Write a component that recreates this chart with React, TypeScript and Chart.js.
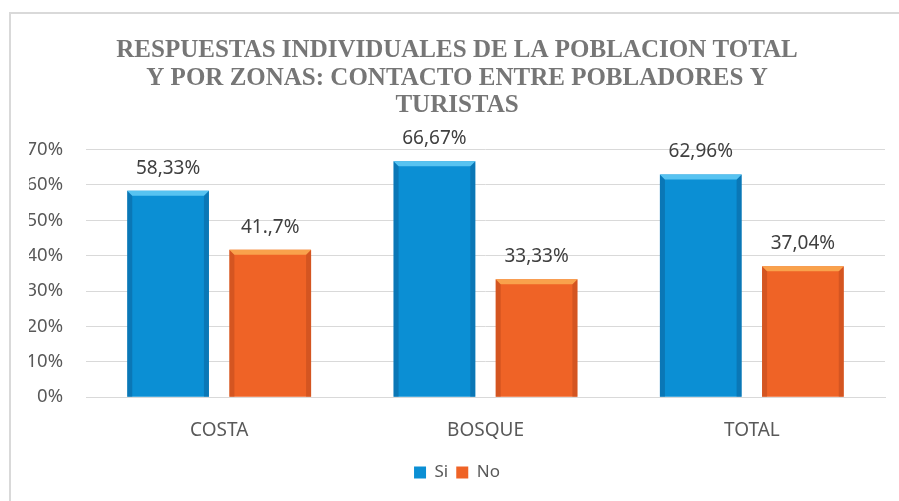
import React, { useEffect, useRef } from "react";
import { Chart, registerables } from "chart.js";

Chart.register(...registerables);

const categories = ["COSTA", "BOSQUE", "TOTAL"];
const siValues = [58.33, 66.67, 62.96];
const noValues = [41.7, 33.33, 37.04];
const siLabels = ["58,33%", "66,67%", "62,96%"];
const noLabels = ["41.,7%", "33,33%", "37,04%"];
const titleLines = [
  "RESPUESTAS INDIVIDUALES DE LA POBLACION TOTAL",
  "Y POR ZONAS: CONTACTO ENTRE POBLADORES Y",
  "TURISTAS",
];
const yTicks = [0, 10, 20, 30, 40, 50, 60, 70];

const SANS = "'Noto Sans', 'Open Sans', sans-serif";

const palette = [
  { main: "#0b8fd4", light: "#5cc6f2", dark: "#0a5f98" },
  { main: "#ef6326", light: "#f9a54e", dark: "#b9481c" },
];

const bevelPlugin = {
  id: "bevel",
  afterDatasetsDraw(chart: any) {
    const ctx = chart.ctx;
    chart.data.datasets.forEach((ds: any, di: number) => {
      const meta = chart.getDatasetMeta(di);
      const c = palette[di];
      meta.data.forEach((bar: any) => {
        const { x, y, base, width } = bar.getProps(["x", "y", "base", "width"], true);
        const l = x - width / 2;
        const r = x + width / 2;
        const b = 5;
        ctx.save();
        ctx.fillStyle = c.dark;
        ctx.globalAlpha = 0.5;
        ctx.beginPath();
        ctx.moveTo(l, y);
        ctx.lineTo(l + b, y + b);
        ctx.lineTo(l + b, base);
        ctx.lineTo(l, base);
        ctx.closePath();
        ctx.fill();
        ctx.beginPath();
        ctx.moveTo(r, y);
        ctx.lineTo(r - b, y + b);
        ctx.lineTo(r - b, base);
        ctx.lineTo(r, base);
        ctx.closePath();
        ctx.fill();
        ctx.globalAlpha = 0.95;
        ctx.fillStyle = c.light;
        ctx.beginPath();
        ctx.moveTo(l, y);
        ctx.lineTo(r, y);
        ctx.lineTo(r - b, y + b);
        ctx.lineTo(l + b, y + b);
        ctx.closePath();
        ctx.fill();
        ctx.restore();
      });
    });
  },
};

const labelPlugin = {
  id: "valueLabels",
  afterDatasetsDraw(chart: any) {
    const ctx = chart.ctx;
    const all = [siLabels, noLabels];
    ctx.save();
    ctx.font = `19px ${SANS}`;
    ctx.fillStyle = "#404040";
    ctx.textAlign = "center";
    ctx.textBaseline = "alphabetic";
    chart.data.datasets.forEach((ds: any, di: number) => {
      const meta = chart.getDatasetMeta(di);
      meta.data.forEach((bar: any, i: number) => {
        const { x, y } = bar.getProps(["x", "y"], true);
        ctx.fillText(all[di][i], x, y - 17);
      });
    });
    ctx.restore();
  },
};

export default function App() {
  const ref = useRef<HTMLCanvasElement | null>(null);

  useEffect(() => {
    if (!ref.current) return;
    const chart = new Chart(ref.current, {
      type: "bar",
      data: {
        labels: categories,
        datasets: [
          {
            label: "Si",
            data: siValues,
            backgroundColor: palette[0].main,
            borderWidth: 0,
            categoryPercentage: 0.767,
            barPercentage: 0.8,
          },
          {
            label: "No",
            data: noValues,
            backgroundColor: palette[1].main,
            borderWidth: 0,
            categoryPercentage: 0.767,
            barPercentage: 0.8,
          },
        ],
      },
      options: {
        responsive: false,
        animation: false,
        devicePixelRatio: 1,
        layout: { padding: { left: 20, right: 20, top: 0, bottom: 10 } },
        plugins: {
          title: {
            display: true,
            text: titleLines,
            color: "#767676",
            font: { family: "'Liberation Serif', 'Times New Roman', serif", size: 25, weight: "bold", lineHeight: 1.1 },
            padding: { top: 25, bottom: 30 },
          },
          legend: {
            position: "bottom",
            labels: {
              boxWidth: 12,
              boxHeight: 12,
              padding: 8,
              color: "#595959",
              font: { family: SANS, size: 17 },
            },
          },
          tooltip: { enabled: false },
        },
        scales: {
          x: {
            grid: { display: false },
            border: { display: true, color: "#d9d9d9" },
            ticks: { color: "#595959", font: { family: SANS, size: 19 }, padding: 14 },
          },
          y: {
            min: 0,
            max: 70,
            afterBuildTicks(scale: any) {
              scale.ticks = yTicks.map((v) => ({ value: v }));
            },
            afterFit(scale: any) {
              scale.width = 57;
            },
            grid: { color: "#d9d9d9", drawTicks: false },
            border: { display: false },
            ticks: {
              color: "#595959",
              font: { family: SANS, size: 18.5 },
              padding: 23,
              callback: (v: any) => `${v}%`,
            },
          },
        },
      },
      plugins: [bevelPlugin, labelPlugin],
    });
    return () => chart.destroy();
  }, []);

  return (
    <div style={{ position: "fixed", left: 0, top: 0, width: 899, height: 501, overflow: "hidden", background: "#fff" }}>
      <div
        style={{
          position: "absolute",
          left: 9,
          top: 12,
          width: 1000,
          height: 1000,
          borderLeft: "2px solid #d9d9d9",
          borderTop: "2px solid #d9d9d9",
        }}
      />
      <canvas
        ref={ref}
        width={896}
        height={489}
        style={{ position: "absolute", left: 9, top: 12, width: 896, height: 489 }}
      />
    </div>
  );
}
